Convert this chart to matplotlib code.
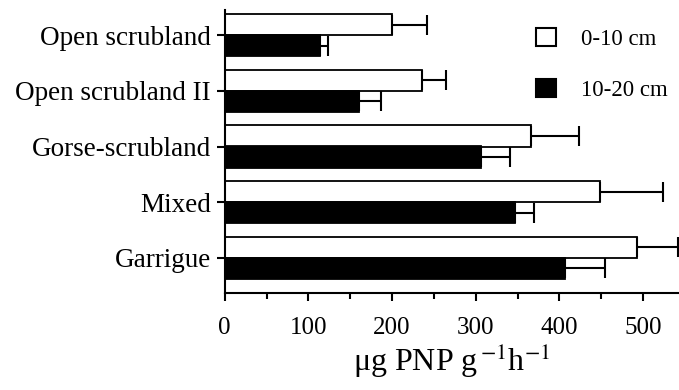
import numpy as np
import matplotlib
matplotlib.use('Agg')
import matplotlib.pyplot as plt
from matplotlib.patches import Patch
from matplotlib.ticker import MultipleLocator

plt.rcParams['font.family'] = ['Liberation Serif', 'DejaVu Serif']
plt.rcParams['mathtext.fontset'] = 'stix'

# sites, listed top to bottom
sites = ['Open scrubland', 'Open scrubland II', 'Gorse-scrubland', 'Mixed', 'Garrigue']
depth_labels = ['0-10 cm', '10-20 cm']
# mean activity and upper error (ug PNP g-1 h-1)
top_soil = [200, 236, 366, 449, 493]
top_soil_err = [42, 28, 57, 75, 49]
sub_soil = [114, 160, 306, 347, 407]
sub_soil_err = [10, 27, 35, 23, 47]

fig = plt.figure(figsize=(6.79, 3.9), dpi=100)
ax = fig.add_axes([0.331, 0.249, 0.669, 0.725])

y = np.arange(len(sites))[::-1]
h = 0.385
off = 0.19

ax.barh(y + off, top_soil, height=h, color='white', edgecolor='black', linewidth=1.3)
ax.barh(y - off, sub_soil, height=h, color='black', edgecolor='black', linewidth=1.3)
ax.errorbar(top_soil, y + off, xerr=[np.zeros(len(sites)), top_soil_err], fmt='none',
            ecolor='black', elinewidth=1.5, capsize=7, capthick=1.5, clip_on=False)
ax.errorbar(sub_soil, y - off, xerr=[np.zeros(len(sites)), sub_soil_err], fmt='none',
            ecolor='black', elinewidth=1.5, capsize=7, capthick=1.5)

ax.set_xlim(0, 543)
ax.set_ylim(-0.63, 4.45)
ax.set_yticks(y)
ax.set_yticklabels(sites, fontsize=19.5)
ax.xaxis.set_major_locator(MultipleLocator(100))
ax.xaxis.set_minor_locator(MultipleLocator(50))
ax.tick_params(axis='x', which='major', length=6, width=1.5, labelsize=18, pad=11)
ax.tick_params(axis='x', which='minor', length=4, width=1.5)
ax.tick_params(axis='y', length=6, width=1.5, pad=4)
ax.set_xlabel(r'μg PNP g$^{\,\mathrm{-1}}$h$^{\mathrm{-1}}$', fontsize=23, labelpad=2)

for s in ['top', 'right']:
    ax.spines[s].set_visible(False)
for s in ['left', 'bottom']:
    ax.spines[s].set_linewidth(1.5)

handles = [Patch(facecolor='white', edgecolor='black', linewidth=1.5),
           Patch(facecolor='black', edgecolor='black', linewidth=1.5)]
ax.legend(handles, depth_labels, loc='upper right', bbox_to_anchor=(1.02, 1.01),
          frameon=False, fontsize=16.5, handlelength=0.85, handleheight=0.85,
          labelspacing=1.25, handletextpad=1.1)

fig.savefig('out.png', dpi=100)
